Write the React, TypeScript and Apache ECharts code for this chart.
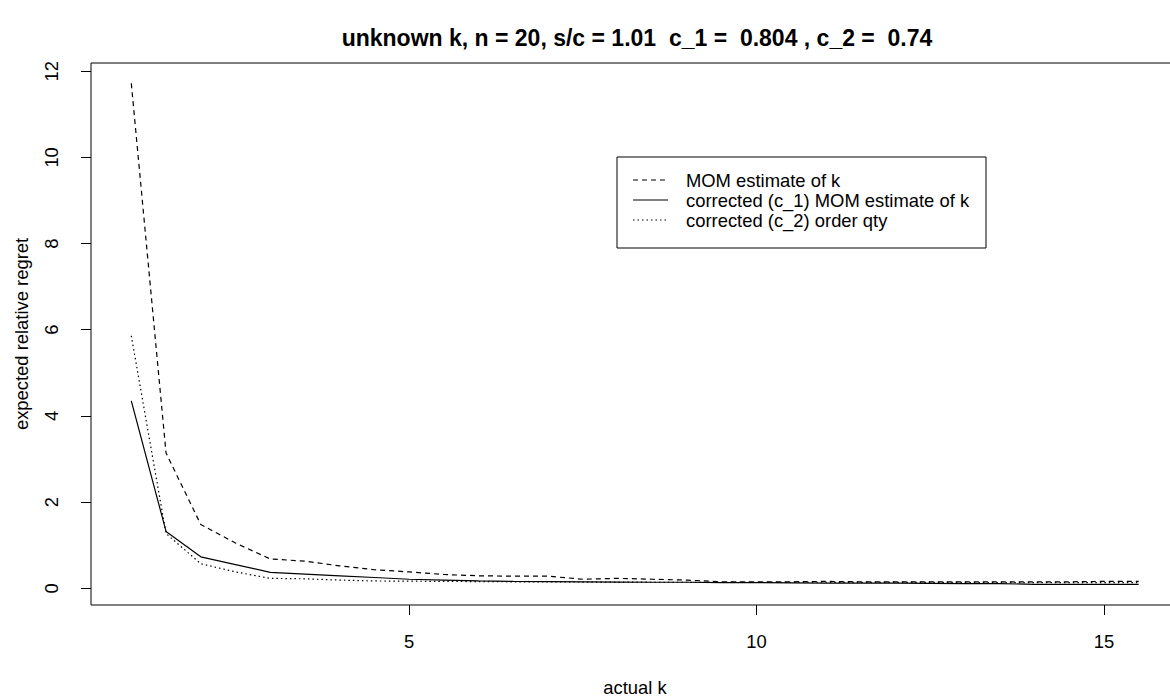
import React, { useEffect, useRef } from "react";
import * as echarts from "echarts";

// actual k values (x)
const kValues = [
  1, 1.5, 2, 2.5, 3, 3.5, 4, 4.5, 5, 5.5, 6, 6.5, 7, 7.5, 8, 8.5, 9, 9.5, 10,
  10.5, 11, 11.5, 12, 12.5, 13, 13.5, 14, 14.5, 15, 15.5,
];

// expected relative regret, MOM estimate of k
const momRegret = [
  11.72, 3.14, 1.48, 1.05, 0.68, 0.63, 0.52, 0.43, 0.38, 0.32, 0.29, 0.28,
  0.28, 0.21, 0.23, 0.21, 0.19, 0.15, 0.15, 0.15, 0.16, 0.15, 0.15, 0.15, 0.15,
  0.15, 0.15, 0.15, 0.16, 0.16,
];

// expected relative regret, corrected (c_1) MOM estimate of k
const c1Regret = [
  4.35, 1.32, 0.73, 0.55, 0.37, 0.33, 0.29, 0.25, 0.21, 0.19, 0.17, 0.16, 0.155,
  0.15, 0.145, 0.14, 0.14, 0.13, 0.13, 0.125, 0.12, 0.12, 0.12, 0.115, 0.11,
  0.11, 0.09, 0.09, 0.09, 0.09,
];

// expected relative regret, corrected (c_2) order qty
const c2Regret = [
  5.86, 1.27, 0.57, 0.38, 0.23, 0.22, 0.19, 0.17, 0.165, 0.16, 0.155, 0.15,
  0.15, 0.145, 0.145, 0.14, 0.14, 0.14, 0.14, 0.14, 0.14, 0.135, 0.135, 0.135,
  0.135, 0.13, 0.13, 0.13, 0.13, 0.13,
];

const xTicks = [5, 10, 15];
const yTicks = [0, 2, 4, 6, 8, 10, 12];

const seriesNames = [
  "MOM estimate of k",
  "corrected (c_1) MOM estimate of k",
  "corrected (c_2) order qty",
];

const titleText = "unknown k, n = 20, s/c = 1.01  c_1 =  0.804 , c_2 =  0.74";

const FONT = "'Liberation Sans', Arial, sans-serif";
const INK = "#000";
const dashed = [5, 4];
const dotted = [1.5, 3];

// the plot frame runs past the right edge of the visible page
const CANVAS_W = 1180;

export default function App() {
  const ref = useRef<HTMLDivElement>(null);

  useEffect(() => {
    document.body.style.margin = "0";
    if (!ref.current) return;
    const chart = echarts.init(ref.current, undefined, { renderer: "svg" });

    const toPoints = (vals: number[]) => kValues.map((k, i) => [k, vals[i]]);
    const lineSeries = (name: string, vals: number[], type: any) => ({
      name,
      type: "line",
      data: toPoints(vals),
      symbol: "none",
      showSymbol: false,
      silent: true,
      lineStyle: { color: INK, width: 1.2, type },
    });

    const legendX = 617;
    const legendY = 157;
    const rowY = [180, 200, 220];
    const styles = [dashed, "solid", dotted];

    const legendChildren: any[] = [
      {
        type: "rect",
        shape: { x: legendX, y: legendY, width: 369, height: 91 },
        style: { fill: "#fff", stroke: INK, lineWidth: 1 },
      },
    ];
    seriesNames.forEach((name, i) => {
      legendChildren.push({
        type: "line",
        shape: { x1: 633, y1: rowY[i], x2: 668, y2: rowY[i] },
        style: {
          stroke: INK,
          lineWidth: 1.2,
          lineDash: styles[i] === "solid" ? null : styles[i],
        },
      });
      legendChildren.push({
        type: "text",
        x: 686,
        y: rowY[i],
        style: {
          text: name,
          fill: INK,
          font: `18.4px ${FONT}`,
          textAlign: "left",
          textVerticalAlign: "middle",
        },
      });
    });

    chart.setOption({
      animation: false,
      backgroundColor: "#fff",
      grid: {
        left: 91,
        top: 63,
        right: CANVAS_W - 1179,
        bottom: 93,
        containLabel: false,
        outerBoundsMode: "none",
        show: true,
        borderColor: INK,
        borderWidth: 1,
        backgroundColor: "transparent",
      },
      xAxis: {
        type: "value",
        min: 0.42,
        max: 16.08,
        name: "actual k",
        nameLocation: "middle",
        nameGap: 73,
        nameTextStyle: { fontFamily: FONT, fontSize: 18.4, color: INK },
        axisLine: { show: false, onZero: false },
        axisTick: {
          show: true,
          length: 10,
          customValues: xTicks,
          lineStyle: { color: INK },
        },
        axisLabel: {
          customValues: xTicks,
          margin: 27,
          fontFamily: FONT,
          fontSize: 18.4,
          color: INK,
        },
        splitLine: { show: false },
      },
      yAxis: {
        type: "value",
        min: -0.388,
        max: 12.19,
        name: "expected relative regret",
        nameLocation: "middle",
        nameGap: 61,
        nameTextStyle: { fontFamily: FONT, fontSize: 18.4, color: INK },
        axisLine: { show: false, onZero: false },
        axisTick: {
          show: true,
          length: 10,
          customValues: yTicks,
          lineStyle: { color: INK },
        },
        axisLabel: {
          customValues: yTicks,
          rotate: 90,
          margin: 31,
          align: "center",
          verticalAlign: "bottom",
          fontFamily: FONT,
          fontSize: 18.4,
          color: INK,
        },
        splitLine: { show: false },
      },
      series: [
        lineSeries(seriesNames[0], momRegret, dashed),
        lineSeries(seriesNames[1], c1Regret, "solid"),
        lineSeries(seriesNames[2], c2Regret, dotted),
      ],
      graphic: [
        {
          type: "text",
          x: 637,
          y: 38,
          style: {
            text: titleText,
            fill: INK,
            font: `bold 23px ${FONT}`,
            textAlign: "center",
            textVerticalAlign: "middle",
          },
        },
        { type: "group", children: legendChildren },
      ],
    });

    return () => chart.dispose();
  }, []);

  return (
    <div style={{ width: 1170, height: 698, overflow: "hidden" }}>
      <div ref={ref} style={{ width: CANVAS_W, height: 698 }} />
    </div>
  );
}
